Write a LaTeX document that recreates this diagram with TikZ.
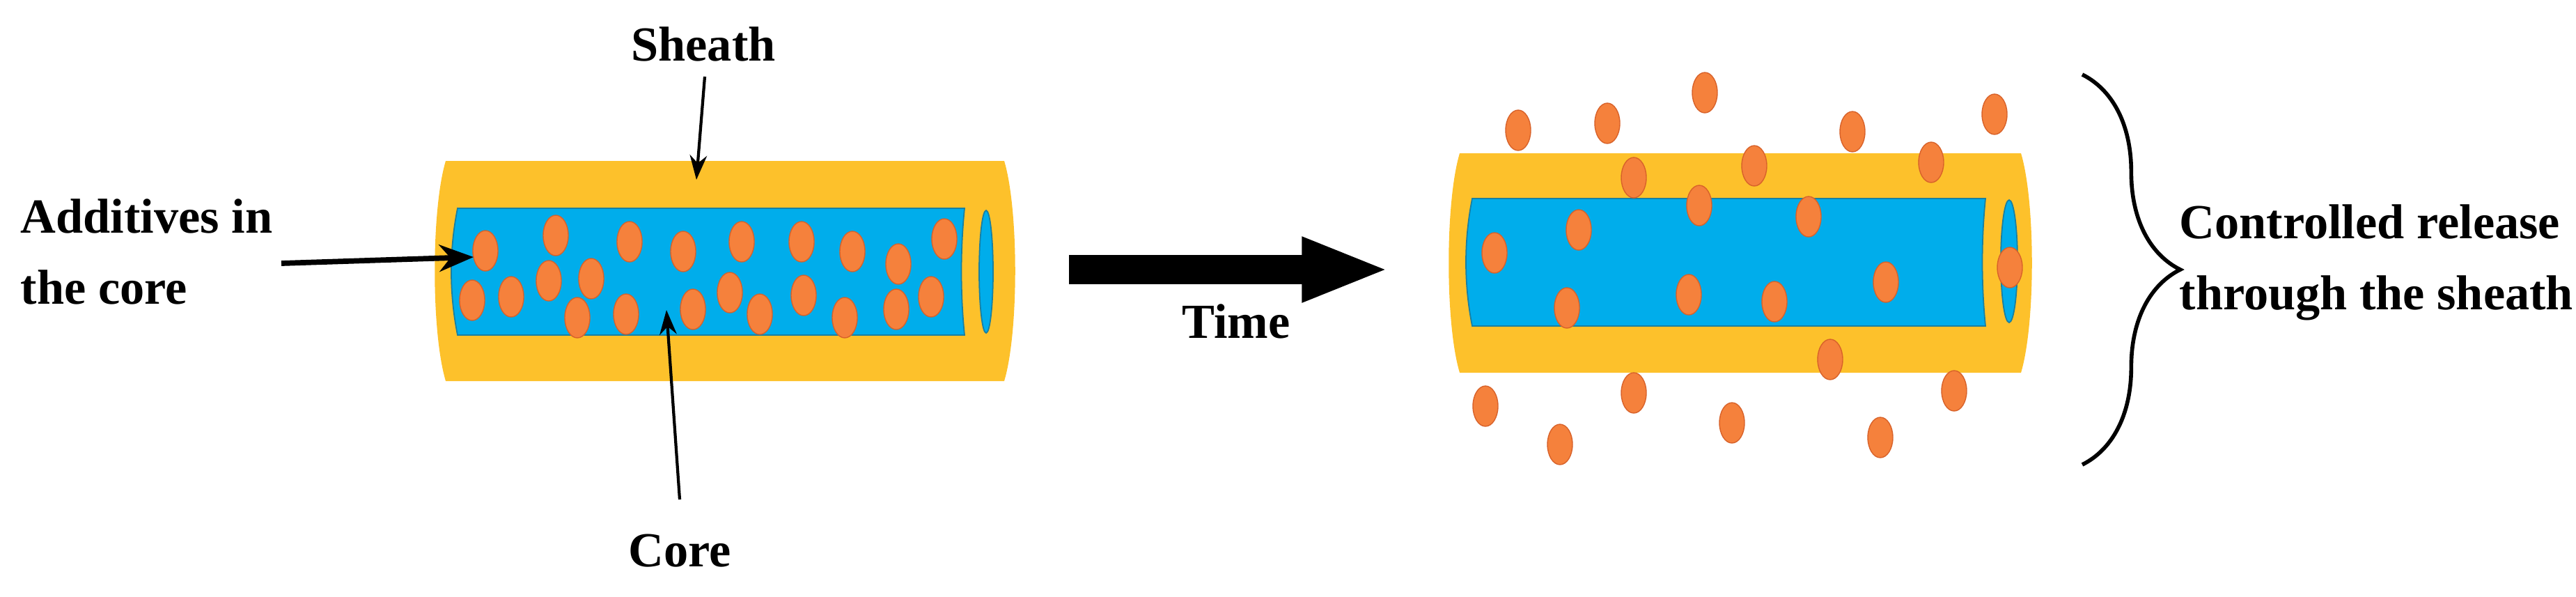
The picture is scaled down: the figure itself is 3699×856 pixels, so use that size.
\documentclass[tikz,border=0pt]{standalone}
\usepackage{fontspec}
\setmainfont{Liberation Serif}
\usetikzlibrary{arrows.meta,decorations.pathreplacing}
\definecolor{sheathc}{HTML}{FDC12B}
\definecolor{corec}{HTML}{00ADEB}
\definecolor{partc}{HTML}{F5813C}
\definecolor{partb}{HTML}{D8622A}
\definecolor{coreb}{HTML}{1A7FA0}
\tikzset{
  lbl/.style={font=\bfseries\fontsize{20}{29}\selectfont, align=left, inner sep=0pt},
  part/.style={fill=partc, draw=partb, line width=0.4pt},
  pointer/.style={draw=black, line width=1.2pt, -{Stealth[length=10pt,width=7pt]}},
  bigpointer/.style={draw=black, line width=2.2pt, -{Stealth[length=14pt,width=11pt]}},
}
\newcommand{\pt}[2]{\fill[part] (#1,#2) ellipse [x radius=18, y radius=29];}
\newcommand{\fiber}[8]{%
  % outer x0 x1 y0 y1, inner x0 x1 y0 y1
  \fill[sheathc] (#1+15,#3) -- (#2-15,#3) .. controls (#2+6,#3+70) and (#2+6,#4-70) .. (#2-15,#4) -- (#1+15,#4) .. controls (#1-6,#4-70) and (#1-6,#3+70) .. (#1+15,#3) -- cycle;
  \filldraw[fill=corec, draw=coreb, line width=0.5pt] (#5+8,#7) -- (#6,#7) .. controls (#6-6,#7+60) and (#6-6,#8-60) .. (#6,#8) -- (#5+8,#8) .. controls (#5-4,#8-60) and (#5-4,#7+60) .. (#5+8,#7) -- cycle;
}
\begin{document}
\begin{tikzpicture}[x=0.01cm,y=-0.01cm]
\useasboundingbox (0,0) rectangle (3699,856);
% left fiber
\fiber{625}{1457}{231}{547}{649}{1385}{299}{481}
\filldraw[fill=corec, draw=coreb, line width=0.5pt] (1416,390) ellipse [x radius=10, y radius=88];
\foreach \a/\b in {697/360,798/338,904/347,981/361,1065/347,1151/347,1224/361,1290/379,1356/343,678/431,734/426,788/403,849/400,829/456,899/451,995/444,1048/420,1091/451,1154/424,1213/456,1287/444,1337/426} {\pt{\a}{\b}}
% right fiber
\fiber{2081}{2917}{220}{535}{2106}{2851}{285}{468}
\filldraw[fill=corec, draw=coreb, line width=0.5pt] (2885,375) ellipse [x radius=12, y radius=88];
\foreach \a/\b in {2180/187,2308/177,2448/133,2660/189,2864/164,2346/255,2519/238,2773/233,2440/295,2597/311,2267/330,2146/363,2886/384,2708/405,2250/442,2425/423,2548/433,2628/516,2346/564,2806/561,2133/583,2487/607,2240/638,2700/628} {\pt{\a}{\b}}
% labels
\node[lbl] (sheath) at (1010,63) {Sheath};
\node[lbl, anchor=west] (add) at (29,361) {Additives in\\the core};
\node[lbl] (core) at (976,791) {Core};
\node[lbl] (time) at (1775,461) {Time};
\node[lbl, anchor=west] (rel) at (3129,377) {Controlled release\\through the sheath};
\coordinate (sheathA) at (1012,110); \coordinate (sheathB) at (1000,258);
\coordinate (addA) at (404,378); \coordinate (addB) at (680,369);
\coordinate (coreA) at (976,717); \coordinate (coreB) at (957,445);
\coordinate (timeA) at (1535,387); \coordinate (timeB) at (1996,387);
\draw[pointer] (sheathA) -- (sheathB);
\draw[bigpointer] (addA) -- (addB);
\draw[pointer] (coreA) -- (coreB);
\draw[draw=black, line width=12pt, -{Triangle[length=36pt,width=24pt]}] (timeA) -- (timeB);
\coordinate (brT) at (2990,107); \coordinate (brB) at (2990,667);
\draw[line width=1.6pt, decorate, decoration={brace, amplitude=40, aspect=0.5}] (brT) -- (brB);
\end{tikzpicture}
\end{document}
